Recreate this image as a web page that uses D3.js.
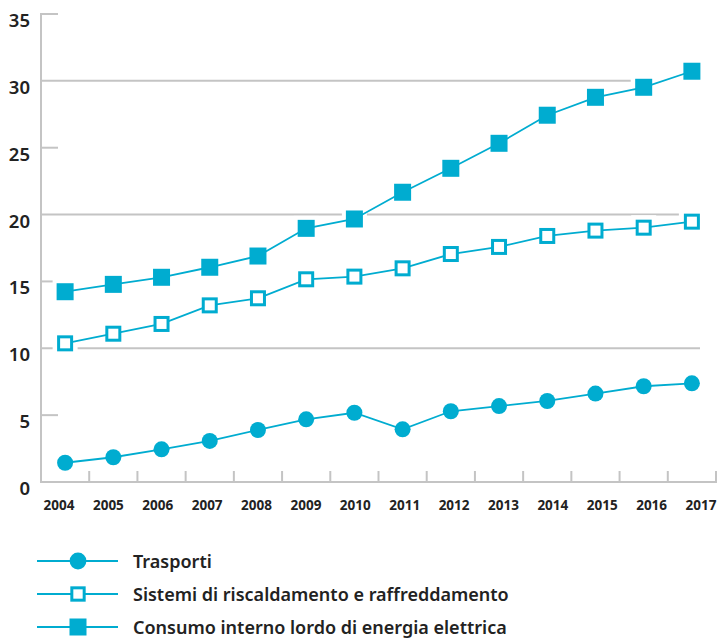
<!DOCTYPE html>
<html>
<head>
<meta charset="utf-8">
<script src="https://cdn.jsdelivr.net/npm/d3@7"></script>
<style>
  html, body { margin: 0; padding: 0; background: #fff; }
  svg { display: block; }
  text { font-family: "Noto Sans", sans-serif; fill: #222; }
</style>
</head>
<body>
<svg id="chart" width="719" height="642"></svg>
<script>
const years = ["2004","2005","2006","2007","2008","2009","2010","2011","2012","2013","2014","2015","2016","2017"];
const trasporti = [1.44, 1.85, 2.44, 3.07, 3.89, 4.69, 5.18, 3.94, 5.29, 5.68, 6.06, 6.61, 7.16, 7.38];
const riscaldamento = [10.37, 11.09, 11.82, 13.21, 13.74, 15.16, 15.36, 15.98, 17.05, 17.58, 18.40, 18.80, 19.02, 19.47];
const elettrica = [14.23, 14.78, 15.31, 16.06, 16.90, 18.97, 19.67, 21.67, 23.46, 25.33, 27.43, 28.77, 29.52, 30.72];
const yTicks = [0, 5, 10, 15, 20, 25, 30, 35];
const seriesNames = ["Trasporti", "Sistemi di riscaldamento e raffreddamento", "Consumo interno lordo di energia elettrica"];
const seriesValues = [trasporti, riscaldamento, elettrica];
const seriesMarkers = ["circle", "open", "square"];

(function () {
const color = "#00acd0";
const gridColor = "#c4c4c4";
const svg = d3.select("#chart");

const pLeft = 41, pRight = 716, pTop = 14, pBottom = 482;
const x = d3.scaleBand().domain(years).range([pLeft, pRight]).paddingInner(0).paddingOuter(0);
const xc = d => x(d) + x.bandwidth() / 2;
const xLabel = d3.scalePoint().domain(years).range([59, 701]);
const y = d3.scaleLinear().domain([0, 35]).range([pBottom, pTop]);

const series = seriesNames.map((name, i) => ({
  name, marker: seriesMarkers[i],
  points: years.map((yr, j) => ({ year: yr, value: seriesValues[i][j], idx: j }))
}));

// Grid lines and short ticks
const gGrid = svg.append("g");
yTicks.filter(v => v > 0).forEach(v => {
  const isGrid = v % 10 === 0;
  let x2 = pLeft + 17;
  if (isGrid) {
    const cands = [];
    series.forEach(s => s.points.forEach(p => {
      if (p.idx >= years.length - 2 && Math.abs(y(p.value) - y(v)) < 9.5) cands.push(xc(p.year));
    }));
    x2 = cands.length ? d3.min(cands) - 13 : pRight - 16;
  }
  gGrid.append("line")
    .attr("x1", pLeft).attr("x2", x2)
    .attr("y1", y(v)).attr("y2", y(v))
    .attr("stroke", gridColor).attr("stroke-width", 2);
});

// Y axis line
svg.append("line").attr("x1", pLeft).attr("x2", pLeft)
  .attr("y1", y(35) - 1).attr("y2", pBottom + 1)
  .attr("stroke", gridColor).attr("stroke-width", 2);

// X axis
svg.append("line").attr("x1", pLeft).attr("x2", pRight + 1)
  .attr("y1", pBottom).attr("y2", pBottom)
  .attr("stroke", gridColor).attr("stroke-width", 2);
years.forEach(yr => {
  const xx = x(yr) + x.bandwidth();
  svg.append("line").attr("x1", xx).attr("x2", xx)
    .attr("y1", pBottom - 11).attr("y2", pBottom)
    .attr("stroke", gridColor).attr("stroke-width", 2);
});

// Y labels
svg.append("g").selectAll("text").data(yTicks).join("text")
  .attr("x", 30).attr("y", d => y(d) + 13)
  .attr("text-anchor", "end")
  .attr("font-size", 18.5).attr("font-weight", 600)
  .text(d => d);

// X labels
svg.append("g").selectAll("text").data(years).join("text")
  .attr("x", d => xLabel(d)).attr("y", 510)
  .attr("text-anchor", "middle")
  .attr("font-size", 13.5).attr("font-weight", 700)
  .text(d => d);

function drawMarker(g, type, cx, cy, scale, halo) {
  if (halo) {
    if (type === "circle") g.append("circle").attr("cx", cx).attr("cy", cy).attr("r", 8 + 4).attr("fill", "#fff");
    else g.append("rect").attr("x", cx - 12.5).attr("y", cy - 12.5).attr("width", 25).attr("height", 25).attr("fill", "#fff");
    return;
  }
  if (type === "circle") {
    g.append("circle").attr("cx", cx).attr("cy", cy).attr("r", 8 * scale).attr("fill", color);
  } else if (type === "square") {
    const s = 17 * scale;
    g.append("rect").attr("x", cx - s / 2).attr("y", cy - s / 2).attr("width", s).attr("height", s).attr("fill", color);
  } else {
    const s = 13 * scale;
    g.append("rect").attr("x", cx - s / 2).attr("y", cy - s / 2).attr("width", s).attr("height", s)
      .attr("fill", "#fff").attr("stroke", color).attr("stroke-width", 3);
  }
}

// Halos
const gHalo = svg.append("g");
series.forEach(s => s.points.forEach(p => drawMarker(gHalo, s.marker, xc(p.year), y(p.value), 1, true)));

// Lines
const line = d3.line().x(p => xc(p.year)).y(p => y(p.value));
series.forEach(s => {
  svg.append("path").attr("d", line(s.points)).attr("fill", "none")
    .attr("stroke", color).attr("stroke-width", 1.8);
});

// Markers
const gMark = svg.append("g");
series.forEach(s => s.points.forEach(p => drawMarker(gMark, s.marker, xc(p.year), y(p.value), 1, false)));

// Legend
const legY = [561, 594, 627];
series.forEach((s, i) => {
  const g = svg.append("g");
  g.append("line").attr("x1", 37).attr("x2", 118).attr("y1", legY[i]).attr("y2", legY[i])
    .attr("stroke", color).attr("stroke-width", 2);
  drawMarker(g, s.marker, 78, legY[i], s.marker === "circle" ? 1.05 : (s.marker === "open" ? 0.95 : 1), false);
  g.append("text").attr("x", 133).attr("y", legY[i] + 6.5)
    .attr("font-size", 18).attr("font-weight", 600)
    .text(s.name);
});
})();
</script>
</body>
</html>
